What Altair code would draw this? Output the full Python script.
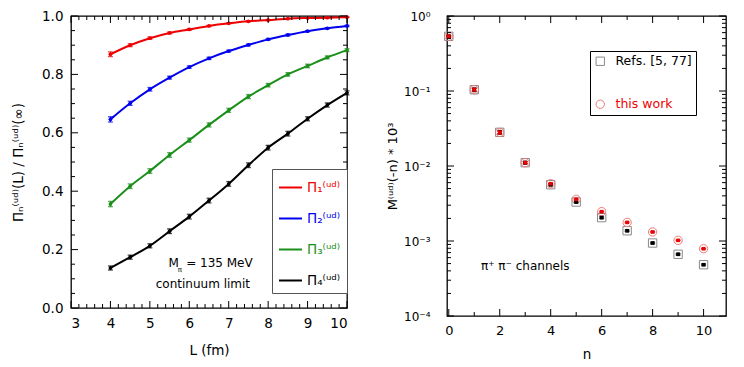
import altair as alt
import pandas as pd

FONT = "DejaVu Sans"

# ---------------- left panel data ----------------
L_fm = [4.0, 4.5, 5.0, 5.5, 6.0, 6.5, 7.0, 7.5, 8.0, 8.5, 9.0, 9.5, 10.0]
pi1 = [0.869, 0.900, 0.924, 0.942, 0.954, 0.966, 0.975, 0.982, 0.986, 0.991, 0.993, 0.994, 0.996]
pi2 = [0.646, 0.701, 0.749, 0.789, 0.825, 0.855, 0.880, 0.901, 0.920, 0.935, 0.948, 0.958, 0.966]
pi3 = [0.356, 0.417, 0.469, 0.524, 0.575, 0.627, 0.677, 0.724, 0.763, 0.800, 0.829, 0.858, 0.883]
pi4 = [0.137, 0.174, 0.213, 0.263, 0.313, 0.368, 0.425, 0.489, 0.549, 0.597, 0.648, 0.695, 0.737]
err1 = [0.008, 0.005, 0.004, 0.003, 0.003, 0.002, 0.002, 0.002, 0.002, 0.001, 0.001, 0.001, 0.001]
err2 = [0.009, 0.007, 0.006, 0.005, 0.004, 0.004, 0.003, 0.003, 0.003, 0.003, 0.002, 0.002, 0.002]
err3 = [0.009, 0.008, 0.008, 0.008, 0.007, 0.007, 0.007, 0.007, 0.006, 0.006, 0.006, 0.005, 0.005]
err4 = [0.007, 0.007, 0.007, 0.008, 0.008, 0.008, 0.008, 0.008, 0.008, 0.008, 0.007, 0.007, 0.007]
left_names = ["Π₁⁽ᵘᵈ⁾", "Π₂⁽ᵘᵈ⁾", "Π₃⁽ᵘᵈ⁾", "Π₄⁽ᵘᵈ⁾"]
left_colors = ["#ee0000", "#0000ee", "#1a8f1a", "#000000"]

left_x_major = [3, 4, 5, 6, 7, 8, 9, 10]
left_y_major = [0.0, 0.2, 0.4, 0.6, 0.8, 1.0]
left_x_minor = [round(3 + 0.2 * i, 2) for i in range(36) if i % 5]
left_y_minor = [round(0.05 * i, 2) for i in range(21) if i % 4]

left_notes = ["M", "= 135 MeV", "continuum limit"]
left_notes_x = [5.47, 5.92, 5.15]
left_notes_y = [0.154, 0.154, 0.082]
left_sub = ["π"]
left_sub_x = [5.76]
left_sub_y = [0.129]

# ---------------- right panel data ----------------
n_vals = [0, 1, 2, 3, 4, 5, 6, 7, 8, 9, 10]
m_refs = [0.536, 0.104, 0.0281, 0.01107, 0.00563, 0.00331, 0.00205, 0.00137, 0.00094, 0.000665, 0.000483]
m_this = [0.536, 0.104, 0.0281, 0.01107, 0.00581, 0.00360, 0.00246, 0.00177, 0.00132, 0.00102, 0.000789]
e_refs = [0.012, 0.005, 0.0014, 0.0004, 0.00015, 0.00008, 0.00005, 0.00003, 0.00002, 0.000015, 0.00001]
e_this = [0.010, 0.004, 0.0012, 0.0003, 0.0001, 0.00005, 0.00003, 0.00002, 0.000015, 0.00001, 0.000008]
right_names = ["Refs. [5, 77]", "this work"]
right_outline_colors = ["#8a8a8a", "#f07a7a"]
right_center_colors = ["#000000", "#ee0000"]

right_x_major = [0, 2, 4, 6, 8, 10]
right_x_minor = [1, 3, 5, 7, 9]
right_y_major = [1.0, 0.1, 0.01, 0.001, 0.0001]
right_y_labels = ["10⁰", "10⁻¹", "10⁻²", "10⁻³", "10⁻⁴"]
right_y_minor = [k * 10.0 ** e for e in range(-4, 0) for k in range(2, 10)]

right_notes = ["π⁺ π⁻ channels"]
right_notes_x = [3.0]
right_notes_y = [0.000464]

# ---------------- build tables ----------------
rows = []
for name, vals, errs in zip(left_names, [pi1, pi2, pi3, pi4], [err1, err2, err3, err4]):
    for L, v, e in zip(L_fm, vals, errs):
        rows.append(dict(series=name, L=L, v=v, lo=v - e, hi=v + e))
left_df = pd.DataFrame(rows)

rrows = []
for name, vals, errs in zip(right_names, [m_refs, m_this], [e_refs, e_this]):
    for n, v, e in zip(n_vals, vals, errs):
        rrows.append(dict(series=name, kind=name + " ", n=n, m=v, lo=v - e, hi=v + e))
right_df = pd.DataFrame(rrows)
center_names = [nm + " " for nm in right_names]

W1, H1 = 276, 292
W2, H2 = 279, 300
MAJ, MIN = 7, 4

xs1 = alt.Scale(domain=[3, 10], nice=False, zero=False)
ys1 = alt.Scale(domain=[0, 1], nice=False, zero=False)
xs2 = alt.Scale(domain=[-0.07, 10.88], nice=False, zero=False)
ys2 = alt.Scale(type="log", domain=[0.0001, 1], nice=False)

# one shared axis definition per channel, repeated identically in every layer
lx_axis = alt.Axis(orient="bottom", values=left_x_major, format="d", ticks=False, domain=False, grid=False,
                   labelPadding=8, labelFontSize=13.5, titleFontSize=13.5, titlePadding=14)
ly_axis = alt.Axis(orient="left", values=left_y_major, format=".1f", ticks=False, domain=False, grid=False,
                   labelPadding=8, labelFontSize=13.5, titleFontSize=13.5, titlePadding=16)
label_expr_right = " : ".join(
    "datum.value > %g ? '%s'" % (v * 0.5, lab) for v, lab in zip(right_y_major[:-1], right_y_labels[:-1])
) + " : '%s'" % right_y_labels[-1]
rx_axis = alt.Axis(orient="bottom", values=right_x_major, format="d", ticks=False, domain=False, grid=False,
                   labelPadding=8, labelFontSize=13, titleFontSize=13.5, titlePadding=10)
ry_axis = alt.Axis(orient="left", values=right_y_major, labelExpr=label_expr_right, ticks=False,
                   domain=False, grid=False, labelPadding=17, labelFontSize=12, titleFontSize=13,
                   titlePadding=4)
LX_T, LY_T = "L (fm)", "Πₙ⁽ᵘᵈ⁾(L) / Πₙ⁽ᵘᵈ⁾(∞)"
RX_T, RY_T = "n", "M⁽ᵘᵈ⁾(-n) * 10³"


def X1(f):
    return alt.X(f, type="quantitative", scale=xs1, axis=lx_axis, title=LX_T)


def Y1(f):
    return alt.Y(f, type="quantitative", scale=ys1, axis=ly_axis, title=LY_T)


def X2(f):
    return alt.X(f, type="quantitative", scale=xs2, axis=rx_axis, title=RX_T)


def Y2(f):
    return alt.Y(f, type="quantitative", scale=ys2, axis=ry_axis, title=RY_T)


def frame_ticks(XF, YF, W, H, x_major, x_minor, y_major, y_minor):
    """Inward tick marks on all four sides, placed through the panel's scales."""
    out = []
    for vals, size in ((x_major, MAJ), (x_minor, MIN)):
        d = pd.DataFrame(dict(t=vals))
        for y0, y1 in ((H, H - size), (0, size)):
            out.append(alt.Chart(d).mark_rule(color="black", strokeWidth=1).encode(
                x=XF("t"), y=alt.value(y0), y2=alt.value(y1)))
    for vals, size in ((y_major, MAJ), (y_minor, MIN)):
        d = pd.DataFrame(dict(t=vals))
        for x0, x1 in ((0, size), (W, W - size)):
            out.append(alt.Chart(d).mark_rule(color="black", strokeWidth=1).encode(
                y=YF("t"), x=alt.value(x0), x2=alt.value(x1)))
    return out


# ---------- left panel ----------
left_ticks = frame_ticks(X1, Y1, W1, H1, left_x_major, left_x_minor, left_y_major, left_y_minor)

label_color_left = ("datum.index == 0 ? '%s' : datum.index == 1 ? '%s' : datum.index == 2 ? '%s' : '%s'"
                    % tuple(left_colors))
cscale1 = alt.Scale(domain=left_names, range=left_colors)

lines = alt.Chart(left_df).mark_line(interpolate="monotone", strokeWidth=2).encode(
    x=X1("L"), y=Y1("v"),
    color=alt.Color("series:N", scale=cscale1, legend=alt.Legend(
        title=None, orient="none", legendX=201, legendY=153, symbolType="stroke",
        symbolSize=529, symbolStrokeWidth=2, strokeColor="#555555", fillColor="white",
        padding=6, rowPadding=12, labelFont=FONT, labelFontSize=13.5, labelOffset=4,
        labelColor={"expr": label_color_left})),
)
errs_left = alt.Chart(left_df).mark_errorbar(ticks={"size": 5}, thickness=1.3).encode(
    x=X1("L"), y=Y1("lo"), y2="hi:Q",
    color=alt.Color("series:N", scale=cscale1, legend=None),
)
pts_left = alt.Chart(left_df).mark_point(filled=True, size=14, opacity=1).encode(
    x=X1("L"), y=Y1("v"),
    color=alt.Color("series:N", scale=cscale1, legend=None),
)
notes_df = pd.DataFrame(dict(t=left_notes, x=left_notes_x, y=left_notes_y))
notes = alt.Chart(notes_df).mark_text(align="left", baseline="middle", font=FONT, fontSize=12,
                                      color="black").encode(x=X1("x"), y=Y1("y"), text="t:N")
sub_df = pd.DataFrame(dict(t=left_sub, x=left_sub_x, y=left_sub_y))
subs = alt.Chart(sub_df).mark_text(align="center", baseline="middle", font=FONT, fontSize=7,
                                   color="black").encode(x=X1("x"), y=Y1("y"), text="t:N")

left = alt.layer(lines, errs_left, pts_left, notes, subs, *left_ticks).properties(width=W1, height=H1)

# ---------- right panel ----------
right_ticks = frame_ticks(X2, Y2, W2, H2, right_x_major, right_x_minor, right_y_major, right_y_minor)

label_color_right = "datum.index == 1 ? '#ee0000' : 'black'"
shape_scale = alt.Scale(domain=right_names, range=["square", "circle"])
ocolor_scale = alt.Scale(domain=right_names, range=right_outline_colors)
ccolor_scale = alt.Scale(domain=center_names, range=right_center_colors)
rleg = alt.Legend(title=None, orient="none", legendX=143, legendY=35, strokeColor="black",
                  fillColor="white", padding=4, rowPadding=30, symbolSize=70, symbolStrokeWidth=1,
                  labelFont=FONT, labelFontSize=12.5, labelOffset=9, labelColor={"expr": label_color_right})

outlines = alt.Chart(right_df).mark_point(filled=False, size=70, strokeWidth=1, opacity=1).encode(
    x=X2("n"), y=Y2("m"),
    shape=alt.Shape("series:N", scale=shape_scale, legend=rleg),
    color=alt.Color("series:N", scale=ocolor_scale, legend=rleg),
)
errs_right = alt.Chart(right_df).mark_errorbar(ticks={"size": 4}, thickness=1).encode(
    x=X2("n"), y=Y2("lo"), y2="hi:Q",
    stroke=alt.Stroke("kind:N", scale=ccolor_scale, legend=None),
)
centers = alt.Chart(right_df).mark_square(size=13, opacity=1).encode(
    x=X2("n"), y=Y2("m"),
    fill=alt.Fill("kind:N", scale=ccolor_scale, legend=None),
)
rnotes_df = pd.DataFrame(dict(t=right_notes, x=right_notes_x, y=right_notes_y))
rnotes = alt.Chart(rnotes_df).mark_text(align="center", baseline="middle", font=FONT, fontSize=12,
                                        color="black").encode(x=X2("x"), y=Y2("y"), text="t:N")

right = alt.layer(outlines, errs_right, centers, rnotes, *right_ticks).properties(width=W2, height=H2)

chart = alt.hconcat(left, right, spacing=33).resolve_scale(
    color="independent", shape="independent", fill="independent", stroke="independent"
).resolve_legend(color="independent", shape="independent").properties(
    padding={"left": 2, "top": 0, "right": 5, "bottom": 2}
).configure_view(stroke="black", strokeWidth=1.3).configure_axis(
    labelFont=FONT, titleFont=FONT, labelColor="black", titleColor="black", titleFontWeight="normal"
)

chart.save("out.html", embed_options={"renderer": "svg", "actions": False})
